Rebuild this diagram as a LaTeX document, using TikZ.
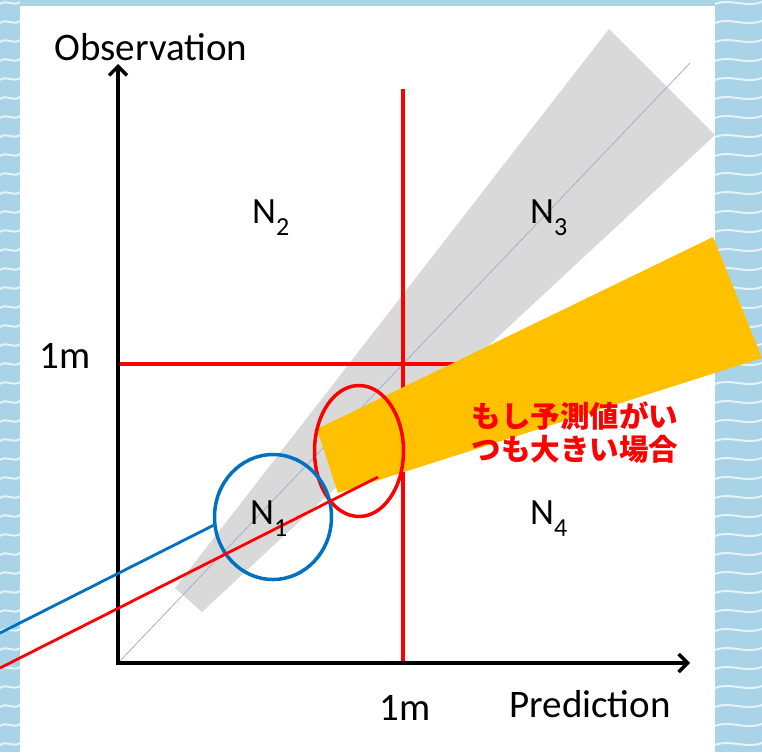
\documentclass[tikz,border=0pt]{standalone}
\usepackage{fontspec}
\setmainfont{Carlito}
\newfontfamily\cjk{Noto Sans CJK JP}
\usetikzlibrary{arrows.meta,shapes.geometric}
\definecolor{seablue}{HTML}{A9D4E7}
\definecolor{bandgray}{HTML}{D9D9D9}
\definecolor{diagblue}{HTML}{9DB2CE}
\definecolor{amber}{HTML}{FFC000}
\definecolor{ringblue}{HTML}{0070C0}
\newcommand{\Nlab}[1]{N\raisebox{-12pt}{\fontsize{26}{26}\selectfont #1}}

\begin{document}
\begin{tikzpicture}[x=1pt, y=-1pt, >=latex]
        \tikzstyle{axisline}=[line width=3.4pt, line join=miter, {Straight Barb[length=9pt,width=18pt]}-{Straight Barb[length=9pt,width=18pt]}]
        \tikzstyle{limit}=[red, line width=3.2pt]
        \tikzstyle{region}=[font=\fontsize{37}{37}\selectfont, inner sep=0pt, anchor=base west]
        \tikzstyle{axislabel}=[font=\fontsize{39}{39}\selectfont, inner sep=0pt, anchor=base]
        \tikzstyle{ring}=[draw, ellipse, line width=3.5pt, inner sep=0pt]
        \tikzstyle{wave}=[white, line width=2pt, opacity=0.7]

        \useasboundingbox (0,0) rectangle (762,752);
        \fill[seablue] (0,0) rectangle (762,752);
        \foreach \yy in {4,23,...,752} {
            \draw[wave] (0,\yy) .. controls (7,\yy-5) and (13,\yy+3) .. (20,\yy-2);
            \draw[wave] (715,\yy) .. controls (730,\yy-6) and (745,\yy+4) .. (762,\yy-2);
        }
        \fill[white] (20,6) rectangle (715,752);

        \fill[bandgray] (175,588) -- (202,612) -- (715,135) -- (609,29) -- cycle;
        \coordinate (o) at (118,663);
        \coordinate (diagend) at (690,63);
        \draw[diagblue, line width=0.8pt] (o) -- (diagend);

        \draw[limit] (403,89) -- (403,663);
        \draw[limit] (118,364) -- (470,364);
        \draw[axisline] (118,64) -- (o) -- (690,663);

        \fill[amber] (317,429) -- (713,237) -- (762,358) -- (338,493) -- cycle;
        \node[ring, red, minimum width=89pt, minimum height=131pt] (bigring) at (359,451) {};
        \node[ring, ringblue, minimum width=117pt, minimum height=125pt] (smallring) at (273,517) {};

        \coordinate (bluefree) at (0,633);
        \coordinate (redfree) at (0,668);
        \coordinate (redend) at (378,477);
        \draw[ringblue, line width=2.8pt] (bluefree) -- (smallring.188);
        \draw[red, line width=2.8pt] (redfree) -- (redend);

        \node[axislabel] (ylab) at (151,60) {Observation};
        \node[axislabel] (xlab) at (590,717) {Prediction};
        \node[axislabel] (ytick) at (65,368) {1m};
        \node[axislabel] (xtick) at (405,720) {1m};

        \node[region] (n1) at (250,524) {\Nlab{1}};
        \node[region] (n2) at (252,223) {\Nlab{2}};
        \node[region] (n3) at (530,223) {\Nlab{3}};
        \node[region] (n4) at (530,524) {\Nlab{4}};

        \node[font=\cjk\bfseries\fontsize{29.5}{33}\selectfont, text=red, align=center, inner sep=0pt] (note) at (575,433) {もし予測値がい\\つも大きい場合};
\end{tikzpicture}
\end{document}
